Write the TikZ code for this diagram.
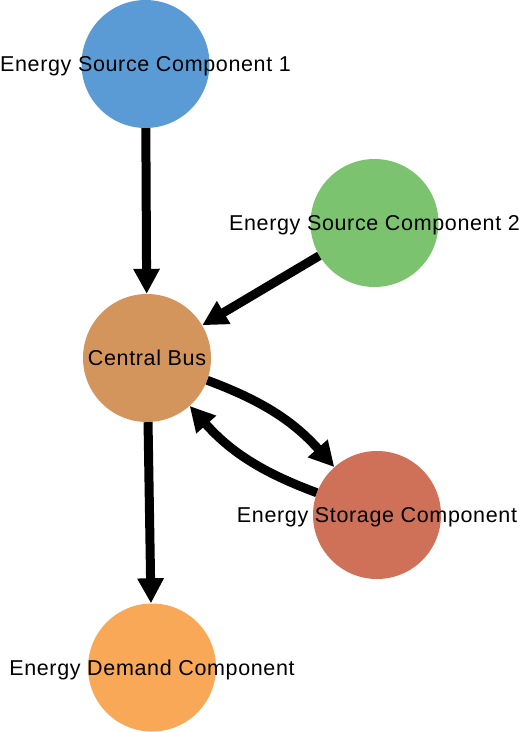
\documentclass[tikz,border=0pt]{standalone}
\usepackage{fontspec}
\setmainfont{Liberation Sans}
\usetikzlibrary{arrows.meta}
\definecolor{cblue}{HTML}{5B9BD5}
\definecolor{cgreen}{HTML}{7BC36E}
\definecolor{cbus}{HTML}{D4955C}
\definecolor{cstor}{HTML}{CF7058}
\definecolor{cdem}{HTML}{F9A857}
\begin{document}
\begin{tikzpicture}[x=1pt,y=1pt,
  comp/.style={circle,draw=none,inner sep=0pt,minimum size=128pt},
  lbl/.style={inner sep=0pt,text height=15.4pt,text depth=0pt,
    font=\fontsize{21.5}{24}\selectfont\addfontfeature{LetterSpace=3}},
  flow/.style={line width=9pt,-{Triangle[length=25pt,width=25pt]}}]
\useasboundingbox (0,0) rectangle (521,-732);
\node[comp,fill=cblue] (s1) at (145.5,-64) {};
\node[comp,fill=cgreen] (s2) at (374.5,-223) {};
\node[comp,fill=cbus] (bus) at (147,-358) {};
\node[comp,fill=cstor] (st) at (377,-515) {};
\node[comp,fill=cdem] (dem) at (152,-667.5) {};
\draw[flow] (s1) -- (bus);
\draw[flow] (s2) -- (bus);
\draw[flow] (bus) -- (dem);
\draw[flow] (bus) to[bend left=14] (st);
\draw[flow] (st) to[bend left=14] (bus);
\node[lbl] (s1l) at (s1) {Energy Source Component 1};
\node[lbl] (s2l) at (s2) {Energy Source Component 2};
\node[lbl] (busl) at (bus) {Central Bus};
\node[lbl] (stl) at (st) {Energy Storage Component};
\node[lbl] (deml) at (dem) {Energy Demand Component};
\end{tikzpicture}
\end{document}
